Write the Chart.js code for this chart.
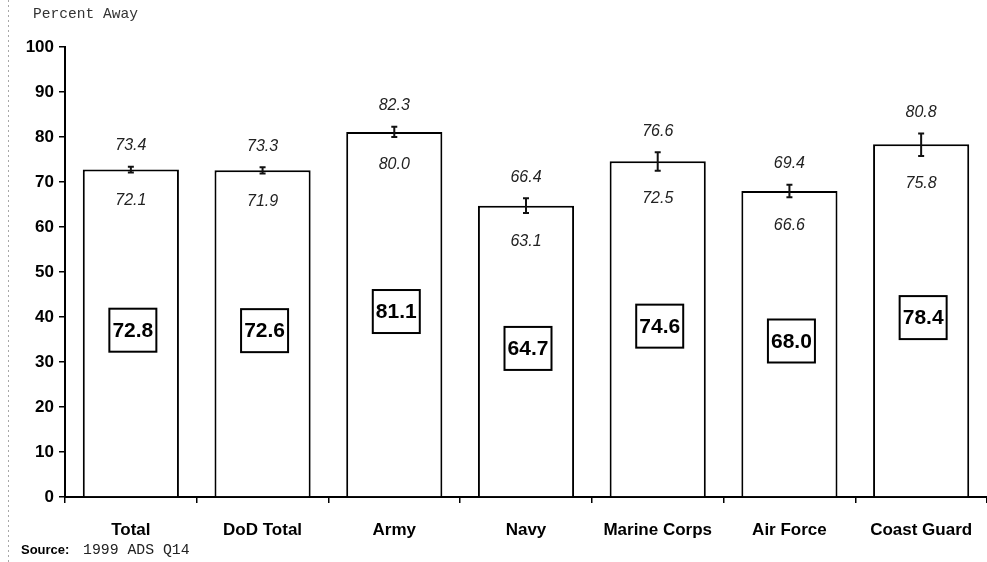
<!DOCTYPE html>
<html>
<head>
<meta charset="utf-8">
<script src="https://cdn.jsdelivr.net/npm/chart.js@4"></script>
<style>
  html, body { margin: 0; padding: 0; background: #fff; }
  #wrap { width: 987px; height: 562px; position: relative; }
</style>
</head>
<body>
<div id="wrap"><canvas id="c" width="987" height="562"></canvas></div>
<script>
// ---- data ----
const categories = ["Total", "DoD Total", "Army", "Navy", "Marine Corps", "Air Force", "Coast Guard"];
const percentAway = [72.8, 72.6, 81.1, 64.7, 74.6, 68.0, 78.4];
const ciLower = [72.1, 71.9, 80.0, 63.1, 72.5, 66.6, 75.8];
const ciUpper = [73.4, 73.3, 82.3, 66.4, 76.6, 69.4, 80.8];
const yTickValues = [0, 10, 20, 30, 40, 50, 60, 70, 80, 90, 100];
const titleText = "Percent Away";
const sourceLabel = "Source:";
const sourceText = "1999 ADS Q14";

const SANS = "'Liberation Sans', Arial, Helvetica, sans-serif";
const MONO = "'Liberation Mono', 'Courier New', monospace";

const annotate = {
  id: 'annotate',
  beforeDraw(chart) {
    const ctx = chart.ctx;
    ctx.save();
    ctx.fillStyle = '#fff';
    ctx.fillRect(0, 0, chart.width, chart.height);
    // faint scan edge
    ctx.strokeStyle = '#a8a8a8';
    ctx.lineWidth = 1;
    ctx.setLineDash([2, 3]);
    ctx.beginPath();
    ctx.moveTo(8.5, 0);
    ctx.lineTo(8.5, chart.height);
    ctx.stroke();
    ctx.setLineDash([]);
    ctx.restore();
  },
  afterDatasetsDraw(chart) {
    const ctx = chart.ctx;
    const y = chart.scales.y;
    const meta = chart.getDatasetMeta(0);
    ctx.save();
    meta.data.forEach((bar, i) => {
      const x = bar.x;
      const yU = y.getPixelForValue(ciUpper[i]);
      const yL = y.getPixelForValue(ciLower[i]);
      // error bar
      ctx.strokeStyle = '#111';
      ctx.lineWidth = 2;
      ctx.beginPath();
      ctx.moveTo(x, yU);
      ctx.lineTo(x, yL);
      ctx.moveTo(x - 3, yU);
      ctx.lineTo(x + 3, yU);
      ctx.moveTo(x - 3, yL);
      ctx.lineTo(x + 3, yL);
      ctx.stroke();
      // CI labels
      ctx.fillStyle = '#222';
      ctx.font = 'italic 16px ' + SANS;
      ctx.textAlign = 'center';
      ctx.textBaseline = 'middle';
      ctx.fillText(ciUpper[i].toFixed(1), x, yU - 21);
      ctx.fillText(ciLower[i].toFixed(1), x, yL + 28);
      // value box
      const cx = x + 2;
      const cy = y.getPixelForValue(percentAway[i] / 2) - 3;
      const w = 47, h = 43;
      ctx.fillStyle = '#fff';
      ctx.fillRect(cx - w / 2, cy - h / 2, w, h);
      ctx.strokeStyle = '#000';
      ctx.lineWidth = 2;
      ctx.strokeRect(cx - w / 2, cy - h / 2, w, h);
      ctx.fillStyle = '#000';
      ctx.font = 'bold 21px ' + SANS;
      ctx.fillText(percentAway[i].toFixed(1), cx, cy + 1);
    });
    // title
    ctx.textAlign = 'left';
    ctx.textBaseline = 'middle';
    ctx.fillStyle = '#333';
    ctx.font = '14.6px ' + MONO;
    ctx.fillText(titleText, 33, 14);
    // source
    ctx.fillStyle = '#000';
    ctx.font = 'bold 13px ' + SANS;
    ctx.fillText(sourceLabel, 21, 550);
    ctx.fillStyle = '#222';
    ctx.font = '14.8px ' + MONO;
    ctx.fillText(sourceText, 83, 550);
    ctx.restore();
  }
};

new Chart(document.getElementById('c'), {
  type: 'bar',
  data: {
    labels: categories,
    datasets: [{
      data: percentAway,
      backgroundColor: '#fff',
      borderColor: '#000',
      borderWidth: 2,
      borderSkipped: 'bottom',
      categoryPercentage: 1.0,
      barPercentage: 0.73
    }]
  },
  options: {
    responsive: false,
    animation: false,
    devicePixelRatio: 1,
    layout: { padding: { top: 47, left: 0, right: 0, bottom: 0 } },
    plugins: { legend: { display: false }, tooltip: { enabled: false }, title: { display: false } },
    scales: {
      x: {
        offset: true,
        grid: { offset: true, drawOnChartArea: false, drawTicks: true, tickLength: 6, color: '#000', lineWidth: 1.5 },
        border: { display: true, color: '#000', width: 2 },
        ticks: { color: '#000', font: { family: SANS, size: 17, weight: 'bold' }, padding: 17, maxRotation: 0 },
        afterFit(scale) { scale.height = 65; scale.paddingLeft = 0; scale.paddingRight = 0; }
      },
      y: {
        min: 0,
        max: 100,
        afterBuildTicks(scale) { scale.ticks = yTickValues.map(v => ({ value: v })); },
        grid: { drawOnChartArea: false, drawTicks: true, tickLength: 6, color: '#000', lineWidth: 1.5 },
        border: { display: true, color: '#000', width: 2 },
        ticks: { color: '#000', font: { family: SANS, size: 17, weight: 'bold' }, padding: 5 },
        afterFit(scale) { scale.width = 65; }
      }
    }
  },
  plugins: [annotate]
});
</script>
</body>
</html>
